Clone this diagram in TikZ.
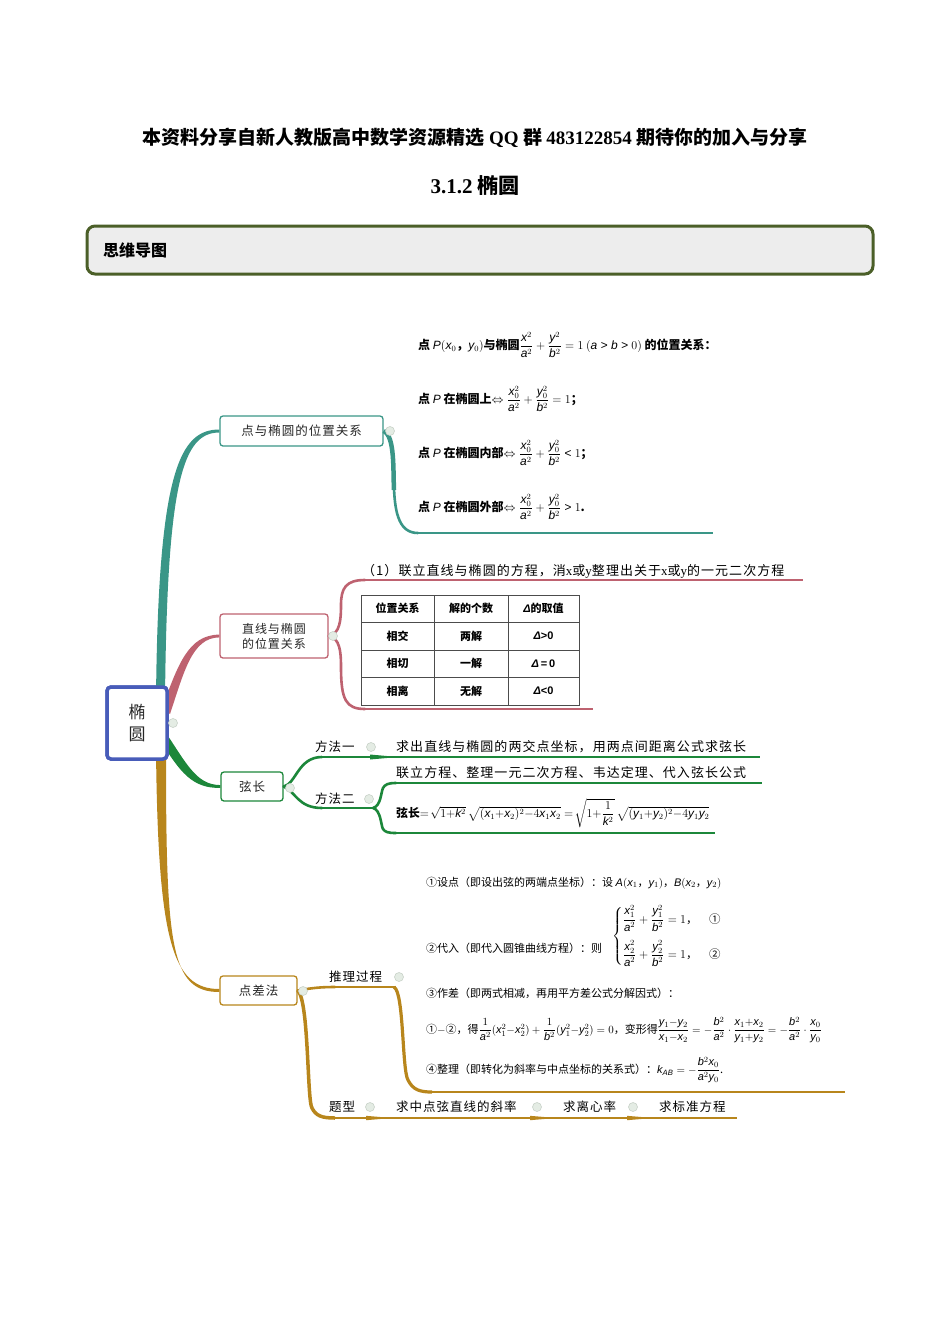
\documentclass[tikz,border=0pt]{standalone}
\usepackage{amsmath}
\usepackage{fontspec}
\setmainfont{Noto Sans CJK SC}
\newfontfamily\lat{Liberation Serif}
\newfontfamily\lsans{Liberation Sans}[NFSSFamily=lsans]
\newfontfamily\cjksp{Noto Sans CJK SC}[LetterSpace=8]
\DeclareSymbolFont{letters}{TU}{lsans}{m}{it}
\DeclareSymbolFont{operators}{TU}{lsans}{m}{n}
\definecolor{cteal}{RGB}{58,150,135}
\definecolor{crose}{RGB}{190,98,112}
\definecolor{cgreen}{RGB}{28,135,58}
\definecolor{cgold}{RGB}{184,134,28}
\definecolor{cblue}{RGB}{72,92,185}
\definecolor{cdkgreen}{RGB}{75,95,40}
\definecolor{cboxfill}{RGB}{237,237,237}
\definecolor{cknob}{RGB}{228,236,228}
\definecolor{cknobline}{RGB}{200,210,200}
\newcommand{\fs}[1]{\fontsize{#1}{#1}\selectfont}
\newcommand{\dl}{{\lsans\itshape Δ}}
\tikzset{
  topic/.style={draw, line width=1.3pt, rounded corners=3pt, fill=white, inner sep=0pt, text=black!85},
  txt/.style={anchor=west, inner sep=0pt},
  knob/.style={circle, draw=cknobline, fill=cknob, line width=0.6pt, inner sep=0pt, minimum size=9pt},
  cell/.style={inner sep=0pt, font=\fs{11}\bfseries},
  br/.style={line width=2.6pt, line cap=round},
  ln/.style={line width=1.4pt},
}
\begin{document}
\begin{tikzpicture}[x=1pt,y=-1pt]
\useasboundingbox (0,0) rectangle (950,1344);
% header
\node (h1) at (475,138) {\fs{19}\bfseries 本资料分享自新人教版高中数学资源精选 {\lat QQ} 群 {\lat 483122854} 期待你的加入与分享};
\node (h2) at (475,186) {\fs{21}\bfseries {\lat 3.1.2} 椭圆};
\node[draw=cdkgreen, line width=3pt, rounded corners=8pt, fill=cboxfill, minimum width=786pt, minimum height=48pt, inner sep=0pt] (box) at (480,250) {};
\node[txt] (boxt) at (103,250) {\fs{16}\bfseries 思维导图};

% main nodes (placed first for anchors)
\node[topic, draw=cblue, line width=3.5pt, rounded corners=4pt, minimum width=60pt, minimum height=72pt, align=center, font=\fs{17}] (c) at (137,723) {椭\\[5pt]圆};
\node[topic, draw=cteal, minimum width=163pt, minimum height=30pt] (n1) at (301.5,431) {\fs{12.5}\cjksp 点与椭圆的位置关系};
\node[topic, draw=crose, minimum width=108pt, minimum height=44pt, align=center, font=\fs{12}\cjksp] (n2) at (274,636) {直线与椭圆\\[3pt]的位置关系};
\node[topic, draw=cgreen, minimum width=62pt, minimum height=29pt] (n3) at (252,786.5) {\fs{12.5}\cjksp 弦长};
\node[topic, draw=cgold, minimum width=77pt, minimum height=29pt] (n4) at (258.5,990.5) {\fs{12.5}\cjksp 点差法};

% main branches (tapered)
\fill[cteal] (156,700) .. controls (158,470) and (180,429.6) .. ([yshift=1.5pt]n1.west) -- ([yshift=-1.5pt]n1.west) .. controls (183,432.6) and (167,480) .. (165,700) -- cycle;
\fill[crose] (162,708) .. controls (178,665) and (188,634.8) .. ([yshift=1.4pt]n2.west) -- ([yshift=-1.4pt]n2.west) .. controls (192,637.5) and (184,672) .. (170,714) -- cycle;
\fill[cgreen] (160,724) .. controls (186,762) and (195,784.8) .. ([yshift=1.4pt]n3.west) -- ([yshift=-1.4pt]n3.west) .. controls (192,788.5) and (180,772) .. (160,740) -- cycle;
\fill[cgold] (156,750) .. controls (158,940) and (172,989.2) .. ([yshift=1.5pt]n4.west) -- ([yshift=-1.5pt]n4.west) .. controls (170,992) and (166,945) .. (166,750) -- cycle;
% redraw centre node over branches
\node[topic, draw=cblue, line width=3.5pt, rounded corners=4pt, minimum width=60pt, minimum height=72pt, align=center, font=\fs{17}] at (c) {椭\\[5pt]圆};

% branch 1 bracket
\coordinate (e1) at (713,533);
\draw[cteal, line width=4.5pt] (n1.east) .. controls (395,436) and (393,470) .. (394,490);
\draw[cteal, br] (394,488) .. controls (395,515) and (400,533) .. (418,533);
\draw[cteal, ln] (416,533) -- (e1);

% branch 2 brace
\coordinate (e2a) at (803,580);
\coordinate (e2b) at (593,709);
\draw[crose, br] (n2.east) .. controls (340,634) and (341,620) .. (341,605) .. controls (341,588) and (346,580) .. (365,580);
\draw[crose, ln] (363,580) -- (e2a);
\draw[crose, br] (n2.east) .. controls (340,638) and (341,652) .. (341,667) .. controls (341,700) and (346,709) .. (365,709);
\draw[crose, ln] (363,709) -- (e2b);

% table
\draw[black!70, line width=0.6pt] (361,595) rectangle (579,705);
\foreach \yy in {622,650,677} \draw[black!70, line width=0.6pt] (361,\yy) -- (579,\yy);
\foreach \xx in {434,508} \draw[black!70, line width=0.6pt] (\xx,595) -- (\xx,705);
\node[cell] (t11) at (397.5,608.5) {位置关系};
\node[cell] (t12) at (471,608.5) {解的个数};
\node[cell] (t13) at (543.5,608.5) {\dl 的取值};
\node[cell] (t21) at (397.5,636) {相交};
\node[cell] (t22) at (471,636) {两解};
\node[cell] (t23) at (543.5,636) {\dl{\lsans >0}};
\node[cell] (t31) at (397.5,663.5) {相切};
\node[cell] (t32) at (471,663.5) {一解};
\node[cell] (t33) at (543.5,663.5) {\dl{\lsans\,=\,0}};
\node[cell] (t41) at (397.5,691) {相离};
\node[cell] (t42) at (471,691) {无解};
\node[cell] (t43) at (543.5,691) {\dl{\lsans <0}};
\node[txt] (l1) at (362,571) {\fs{13}\cjksp （1）联立直线与椭圆的方程，消{\lat x}或{\lat y}整理出关于{\lat x}或{\lat y}的一元二次方程};

% branch 3
\coordinate (e3a) at (760,757);
\coordinate (e3b) at (762,783);
\coordinate (e3c) at (715,833);
\draw[cgreen, br] (n3.east) .. controls (296,784) and (298,757) .. (322,757);
\draw[cgreen, ln] (320,757) -- (e3a);
\fill[cgreen] (370,754.5) -- (398,757) -- (370,759.5) -- cycle;
\draw[cgreen, br] (n3.east) .. controls (296,792) and (298,808) .. (322,808);
\draw[cgreen, ln] (320,808) -- (373,808);
\draw[cgreen, br] (373,808) .. controls (381,806) and (381,792) .. (383,788) .. controls (385,784.5) and (388,783) .. (396,783);
\draw[cgreen, ln] (394,783) -- (e3b);
\draw[cgreen, br] (373,808) .. controls (381,810) and (381,826) .. (383,829) .. controls (385,832) and (388,833) .. (396,833);
\draw[cgreen, ln] (394,833) -- (e3c);

% branch 4
\coordinate (e4a) at (845,1092);
\coordinate (e4b) at (737,1118);
\draw[cgold, br] (n4.east) .. controls (312,988) and (320,987) .. (335,987);
\draw[cgold, ln] (333,987) -- (396,987);
\draw[cgold, line width=3.2pt] (394,987) .. controls (404,992) and (402,1070) .. (408,1080) .. controls (413,1090) and (420,1092) .. (432,1092);
\draw[cgold, ln] (430,1092) -- (e4a);
\draw[cgold, line width=3.5pt] (n4.east) .. controls (309,1000) and (307,1100) .. (312,1108) .. controls (316,1116) and (322,1118) .. (335,1118);
\draw[cgold, ln] (333,1118) -- (e4b);
\fill[cgold] (366,1115.8) -- (392,1118) -- (366,1120.2) -- cycle;
\fill[cgold] (530,1115.8) -- (556,1118) -- (530,1120.2) -- cycle;
\fill[cgold] (627,1115.8) -- (653,1118) -- (627,1120.2) -- cycle;

% knobs
\node[knob] (k0) at (173,723) {};
\node[knob] (k1) at (390,431) {};
\node[knob] (k2) at (333,636) {};
\node[knob] (k3) at (290,788) {};
\node[knob] (k31) at (371,747) {};
\node[knob] (k32) at (369,799) {};
\node[knob] (k4) at (303,991) {};
\node[knob] (k41) at (399,977) {};
\node[knob] (k42) at (370,1107) {};
\node[knob] (k43) at (537,1107) {};
\node[knob] (k44) at (633,1107) {};

% branch 1 texts
\node[txt] (f1) at (418,345) {\fs{12}\bfseries 点 $P(x_0$，$y_0)$与椭圆$\dfrac{x^2}{a^2}+\dfrac{y^2}{b^2}=1$ $(a>b>0)$ 的位置关系：};
\node[txt] (f2) at (418,399) {\fs{12}\bfseries 点 $P$ 在椭圆上$\Leftrightarrow\dfrac{x_0^2}{a^2}+\dfrac{y_0^2}{b^2}=1$；};
\node[txt] (f3) at (418,453) {\fs{12}\bfseries 点 $P$ 在椭圆内部$\Leftrightarrow\dfrac{x_0^2}{a^2}+\dfrac{y_0^2}{b^2}<1$；};
\node[txt] (f4) at (418,507) {\fs{12}\bfseries 点 $P$ 在椭圆外部$\Leftrightarrow\dfrac{x_0^2}{a^2}+\dfrac{y_0^2}{b^2}>1$.};

% branch 3 texts
\node[txt] (m1) at (315,747) {\fs{12.5}\cjksp 方法一};
\node[txt] (m2) at (315,799) {\fs{12.5}\cjksp 方法二};
\node[txt] (m1t) at (396,747) {\fs{13}\cjksp 求出直线与椭圆的两交点坐标，用两点间距离公式求弦长};
\node[txt] (m2t) at (396,773) {\fs{13}\cjksp 联立方程、整理一元二次方程、韦达定理、代入弦长公式};
\node[txt] (m2f) at (396,813) {\fs{11.8}\bfseries 弦长$=\!\sqrt{1{+}k^2}\,\sqrt{(x_1{+}x_2)^2{-}4x_1x_2}=\!\sqrt{1{+}\dfrac{1}{k^2}}\,\sqrt{(y_1{+}y_2)^2{-}4y_1y_2}$};

% branch 4 texts
\node[txt] (p1) at (329,977) {\fs{12.5}\cjksp 推理过程};
\node[txt] (p2) at (329,1107) {\fs{12.5}\cjksp 题型};
\node[txt] (q1) at (396,1107) {\fs{12.5}\cjksp 求中点弦直线的斜率};
\node[txt] (q2) at (563,1107) {\fs{12.5}\cjksp 求离心率};
\node[txt] (q3) at (659,1107) {\fs{12.5}\cjksp 求标准方程};
\node[txt] (s1) at (426,883) {\fs{11}①设点（即设出弦的两端点坐标）：设 $A(x_1$，$y_1)$，$B(x_2$，$y_2)$};
\node[txt] (s2) at (426,948) {\fs{11}②代入（即代入圆锥曲线方程）：则};
\node[txt] (s2s) at (612,936) {\fs{11.5}$\left\{\begin{array}{@{}l@{}}\dfrac{x_1^2}{a^2}+\dfrac{y_1^2}{b^2}=1\text{，}\quad\text{①}\\[14pt]\dfrac{x_2^2}{a^2}+\dfrac{y_2^2}{b^2}=1\text{，}\quad\text{②}\end{array}\right.$};
\node[txt] (s3) at (426,993) {\fs{11}③作差（即两式相减，再用平方差公式分解因式）：};
\node[txt] (s4) at (426,1030) {\fs{11}①$-$②，得$\dfrac{1}{a^2}(x_1^2{-}x_2^2)+\dfrac{1}{b^2}(y_1^2{-}y_2^2)=0$，变形得$\dfrac{y_1{-}y_2}{x_1{-}x_2}={-}\dfrac{b^2}{a^2}\cdot\dfrac{x_1{+}x_2}{y_1{+}y_2}={-}\dfrac{b^2}{a^2}\cdot\dfrac{x_0}{y_0}$};
\node[txt] (s5) at (426,1070) {\fs{11}④整理（即转化为斜率与中点坐标的关系式）：$k_{AB}=-\dfrac{b^2x_0}{a^2y_0}$.};
\end{tikzpicture}
\end{document}
